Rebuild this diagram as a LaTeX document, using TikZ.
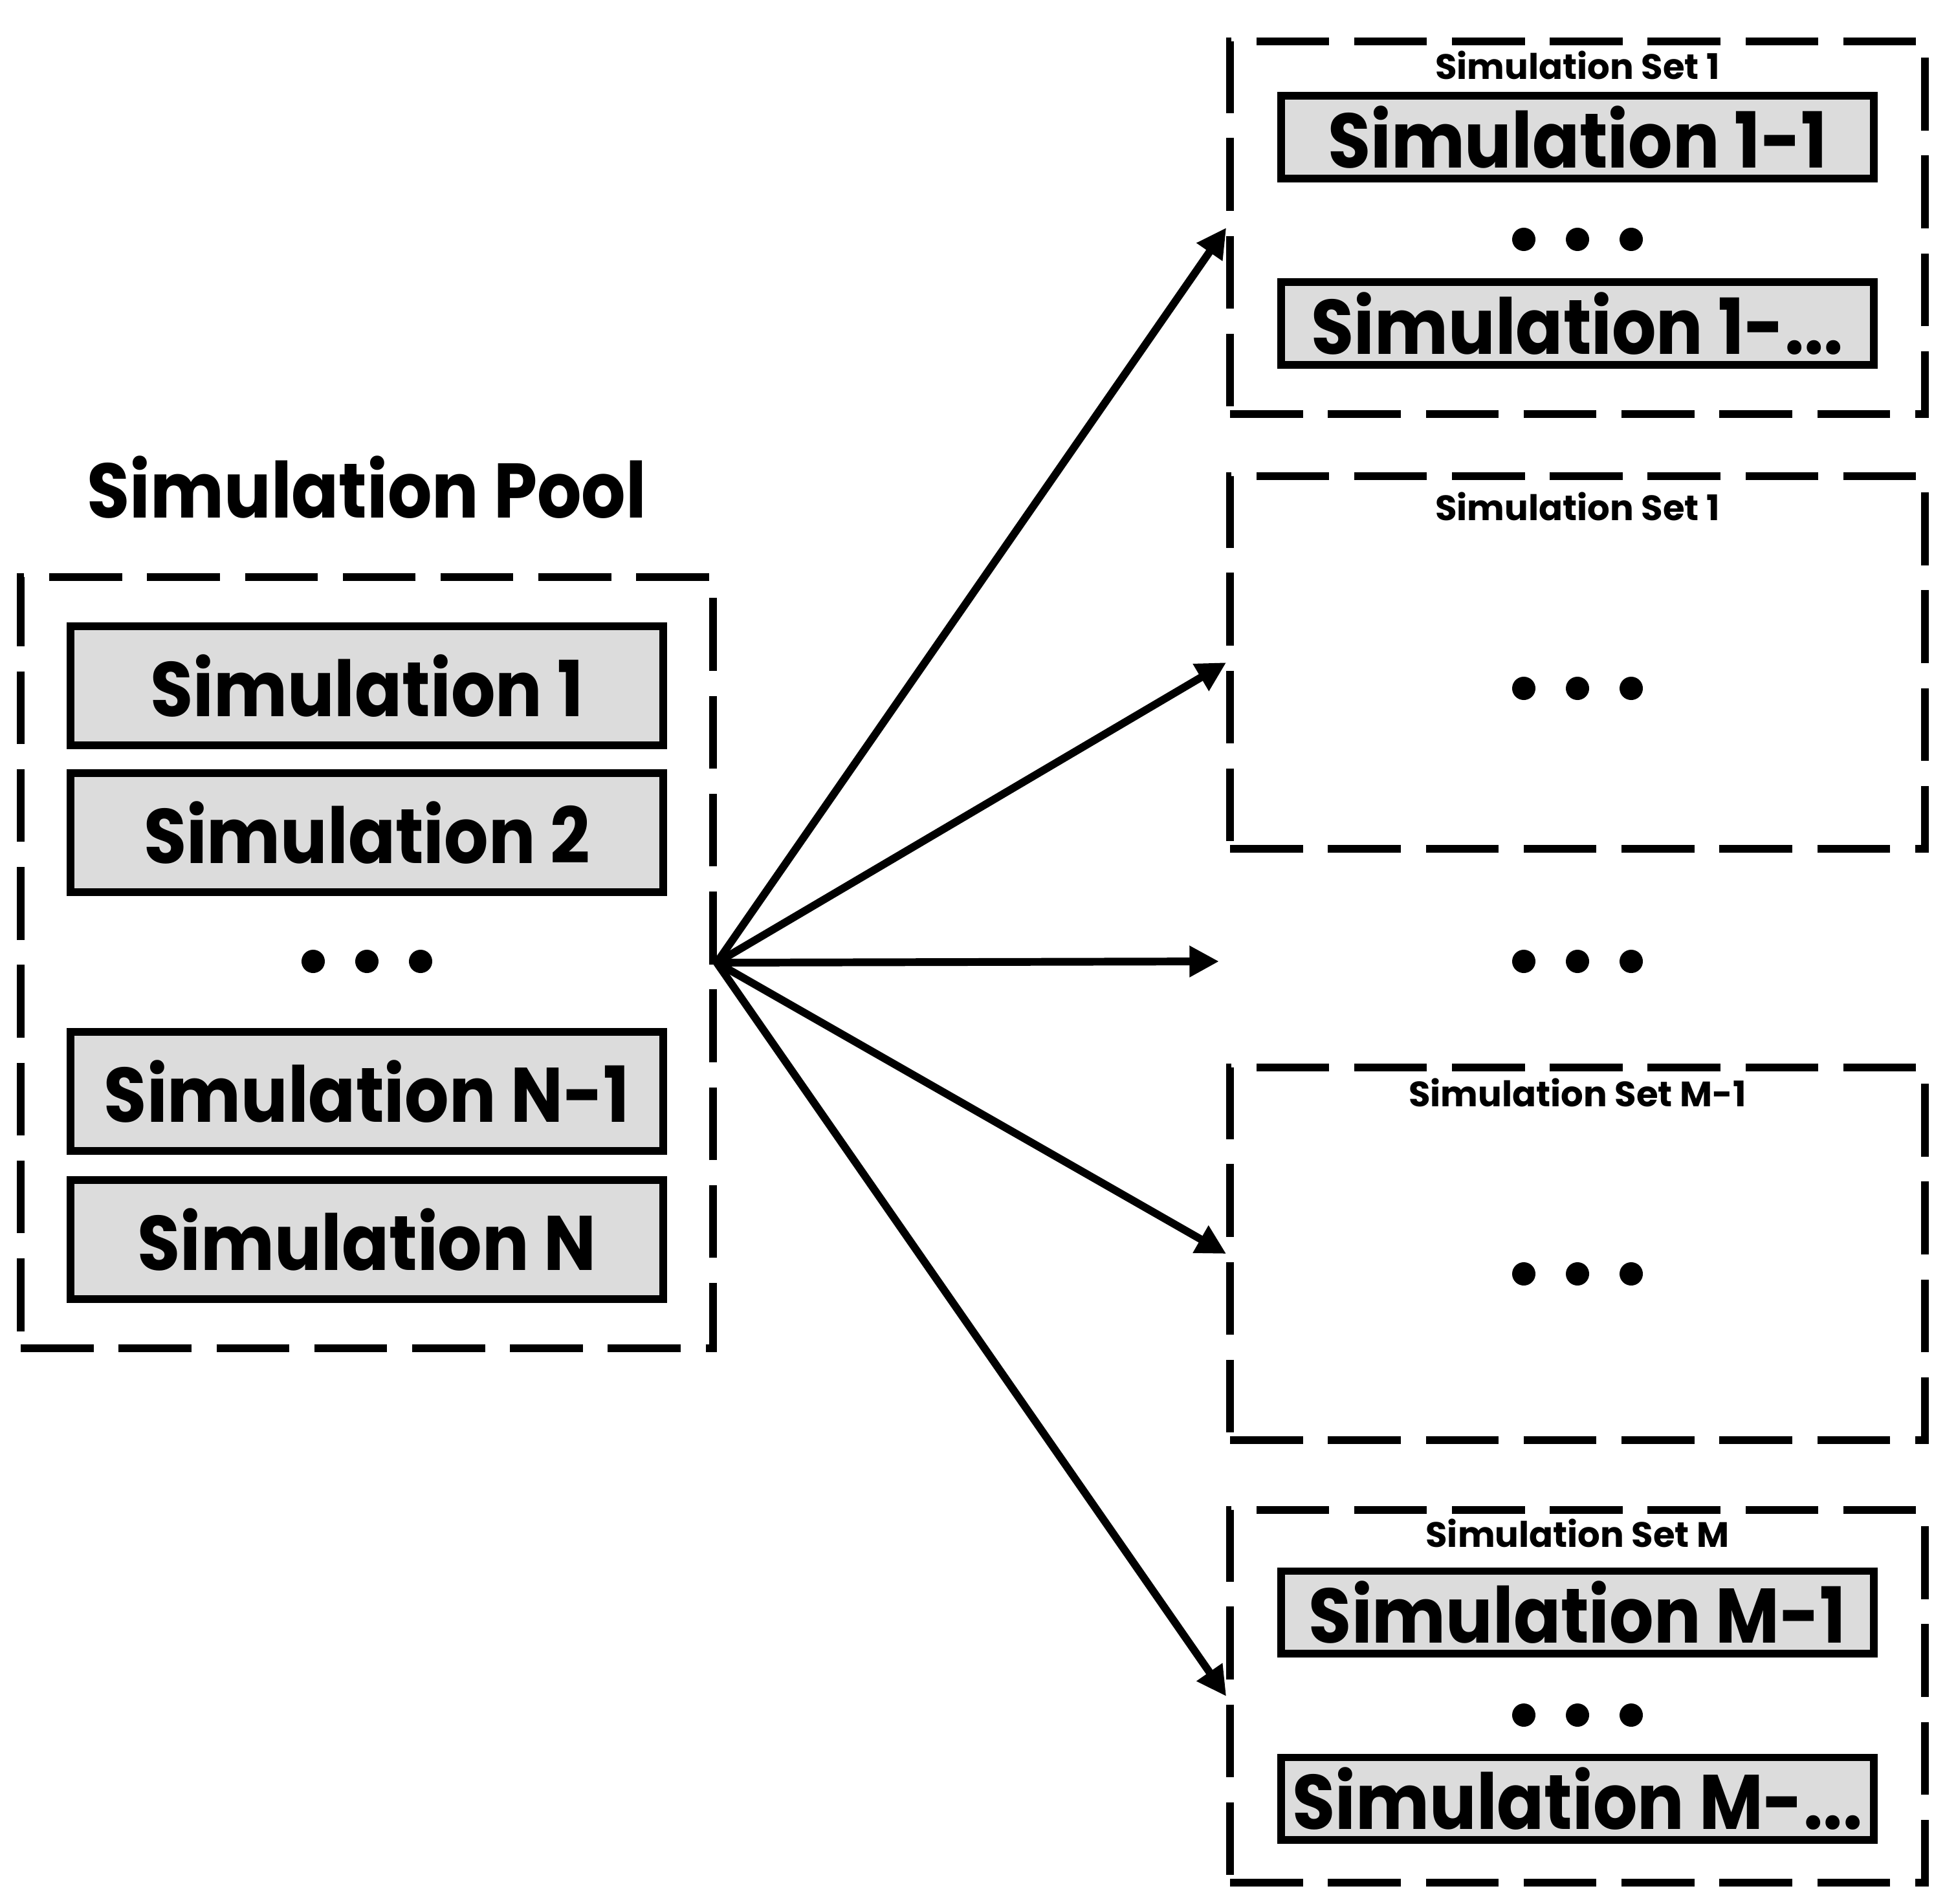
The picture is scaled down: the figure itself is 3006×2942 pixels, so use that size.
\documentclass[tikz,border=0pt]{standalone}
\usepackage{fontspec}
\setmainfont{Poppins}
\newfontfamily\simfont{Poppins Bold}[FakeStretch=0.9]
\newfontfamily\titlefont{Poppins Bold}
\usetikzlibrary{arrows.meta}
\definecolor{simgrey}{HTML}{DCDCDC}
\tikzset{
  simbox/.style={draw, line width=3.4pt, fill=simgrey, minimum width=9.15cm, minimum height=1.83cm, inner sep=0pt, font=\simfont\fontsize{34}{34}\selectfont},
  subbox/.style={simbox, minimum height=1.27cm},
  setbox/.style={draw, line width=3.4pt, dash pattern=on 32pt off 11pt, minimum width=10.73cm, minimum height=5.76cm, inner sep=0pt},
  settitle/.style={inner sep=0pt, font=\titlefont\fontsize{15.5}{15.5}\selectfont},
  fan/.style={line width=3.4pt, -{Triangle[length=13pt,width=13pt]}},
}
\begin{document}
\begin{tikzpicture}[x=0.01cm, y=-0.01cm]
  \useasboundingbox (0,0) rectangle (3006,2942);
  \node[inner sep=0pt, font=\simfont\fontsize{34}{34}\selectfont] (pooltitle) at (567,753) {Simulation Pool};
  \node[setbox, minimum width=10.69cm, minimum height=11.92cm] (pool) at (567,1488) {};
  \node[simbox] (sim1) at (567,1060) {Simulation 1};
  \node[simbox] (sim2) at (567,1287) {Simulation 2};
  \node[simbox] (simn1) at (567,1687) {Simulation N-1};
  \node[simbox] (simn) at (567,1916) {Simulation N};
  \node[setbox] (set1) at (2438,352) {};
  \node[setbox] (set2) at (2438,1024) {};
  \node[setbox] (setm1) at (2438,1938) {};
  \node[setbox] (setm) at (2438,2622) {};
  \node[settitle] (set1t) at (2438,101) {Simulation Set 1};
  \node[settitle] (set2t) at (2438,783) {Simulation Set 1};
  \node[settitle] (setm1t) at (2438,1689) {Simulation Set M-1};
  \node[settitle] (setmt) at (2438,2370) {Simulation Set M};
  \node[subbox] (s11) at (2438,212) {Simulation 1-1};
  \node[subbox] (s1x) at (2438,500) {Simulation 1-...};
  \node[subbox] (sm1) at (2438,2492) {Simulation M-1};
  \node[subbox] (smx) at (2438,2780) {Simulation M-...};
  \coordinate (mid) at (1884,1486);
  \fill[black] (484,1486) circle (0.18cm);
  \fill[black] (567,1486) circle (0.18cm);
  \fill[black] (650,1486) circle (0.18cm);
  \fill[black] (2355,370) circle (0.18cm);
  \fill[black] (2438,370) circle (0.18cm);
  \fill[black] (2521,370) circle (0.18cm);
  \fill[black] (2355,1064) circle (0.18cm);
  \fill[black] (2438,1064) circle (0.18cm);
  \fill[black] (2521,1064) circle (0.18cm);
  \fill[black] (2355,1486) circle (0.18cm);
  \fill[black] (2438,1486) circle (0.18cm);
  \fill[black] (2521,1486) circle (0.18cm);
  \fill[black] (2355,1969) circle (0.18cm);
  \fill[black] (2438,1969) circle (0.18cm);
  \fill[black] (2521,1969) circle (0.18cm);
  \fill[black] (2355,2651) circle (0.18cm);
  \fill[black] (2438,2651) circle (0.18cm);
  \fill[black] (2521,2651) circle (0.18cm);
  \draw[fan] (pool.east) -- (set1.west);
  \draw[fan] (pool.east) -- (set2.west);
  \draw[fan] (pool.east) -- (mid);
  \draw[fan] (pool.east) -- (setm1.west);
  \draw[fan] (pool.east) -- (setm.west);
\end{tikzpicture}
\end{document}
